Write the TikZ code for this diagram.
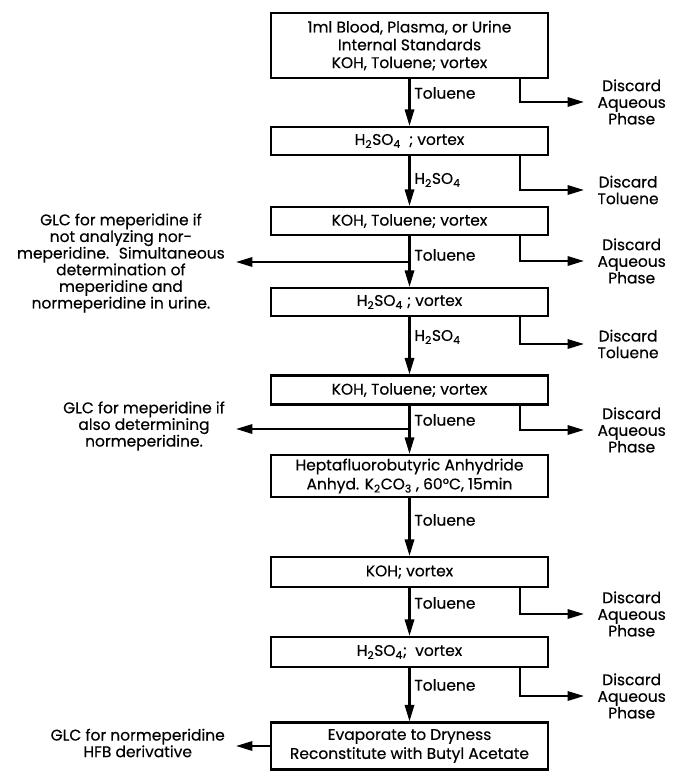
\documentclass[tikz,border=0pt]{standalone}
\usepackage{fontspec}
\setmainfont{Poppins}[FakeBold=0.4]
\usetikzlibrary{arrows.meta,positioning}

\newcommand{\sub}[1]{\textsubscript{#1}}

\begin{document}
\begin{tikzpicture}[x=0.03cm, y=-0.03cm, >={Triangle[length=14pt,width=8pt]},
    every node/.style={font=\fontsize{13.2}{14.2}\selectfont},
    box/.style={draw, line width=2pt, minimum width=8.31cm, minimum height=0.84cm, align=center, inner sep=0pt},
    lbl/.style={anchor=west, inner sep=1pt},
    discard/.style={anchor=west, align=center, inner xsep=0.4cm, inner ysep=0pt},
    glc/.style={anchor=east, align=center, inner xsep=0.33cm, inner ysep=0pt}]
    \useasboundingbox (0,0) rectangle (674,771);

    % Main column
    \node[box, minimum height=1.95cm] (b1) at (409.5,45.5) {1ml Blood, Plasma, or Urine\\[1pt]Internal Standards\\[1pt]KOH, Toluene; vortex};
    \node[box] (b2) at (409.5,141) {H\sub{2}SO\sub{4} \ ; vortex};
    \node[box] (b3) at (409.5,221) {KOH, Toluene; vortex};
    \node[box] (b4) at (409.5,302) {H\sub{2}SO\sub{4} ; vortex};
    \node[box, minimum height=0.87cm] (b5) at (409.5,390) {KOH, Toluene; vortex};
    \node[box, minimum height=1.26cm] (b6) at (409.5,476) {Heptafluorobutyric Anhydride\\[2pt]Anhyd. K\sub{2}CO\sub{3} , 60°C, 15min};
    \node[box, minimum height=0.9cm] (b7) at (409.5,572) {KOH; vortex};
    \node[box, minimum height=0.9cm] (b8) at (409.5,652) {H\sub{2}SO\sub{4}; \ vortex};
    \node[box, minimum height=1.41cm] (b9) at (409.5,746) {Evaporate to Dryness\\[2pt]Reconstitute with Butyl Acetate};

    % Down arrows with phase labels
    \foreach \a/\b/\t/\y in {b1/b2/Toluene/93, b2/b3/{H\sub{2}SO\sub{4}}/180, b3/b4/Toluene/255,
        b4/b5/{H\sub{2}SO\sub{4}}/337, b5/b6/Toluene/420, b6/b7/Toluene/520,
        b7/b8/Toluene/603, b8/b9/Toluene/685} {
      \draw[line width=1.8pt, ->] (\a) -- (\b);
      \node[lbl] at (413,\y) {\t};
    }

    % Discarded phases
    \node[discard] (d1) at (584,102) {Discard\\Aqueous\\Phase};
    \node[discard] (d2) at (584,190) {Discard\\Toluene};
    \node[discard] (d3) at (584,261) {Discard\\Aqueous\\Phase};
    \node[discard] (d4) at (584,344) {Discard\\Toluene};
    \node[discard] (d5) at (584,430) {Discard\\Aqueous\\Phase};
    \node[discard] (d7) at (584,614) {Discard\\Aqueous\\Phase};
    \node[discard] (d8) at (584,696) {Discard\\Aqueous\\Phase};
    \foreach \b/\d in {b1/d1, b2/d2, b3/d3, b4/d4, b5/d5, b7/d7, b8/d8}
      \draw[line width=1.8pt, ->] ([xshift=-0.87cm]\b.south east) |- (\d.west);

    % GLC side branches
    \node[glc] (g1) at (236,263) {GLC for meperidine if\\not analyzing nor-\\meperidine. \ Simultaneous\\determination of\\meperidine and\\normeperidine in urine.};
    \node[glc] (g2) at (236,426) {GLC for meperidine if\\also determining\\normeperidine.};
    \node[glc] (g3) at (236,743) {GLC for normeperidine\\HFB derivative};
    \coordinate (j3) at (409.5,262);
    \coordinate (j5) at (409.5,429);
    \draw[line width=1.8pt, ->] (j3) -- (j3 -| g1.east);
    \draw[line width=1.8pt, ->] (j5) -- (j5 -| g2.east);
    \draw[line width=1.8pt, ->] (b9.west) -- (b9.west -| g3.east);
\end{tikzpicture}
\end{document}
